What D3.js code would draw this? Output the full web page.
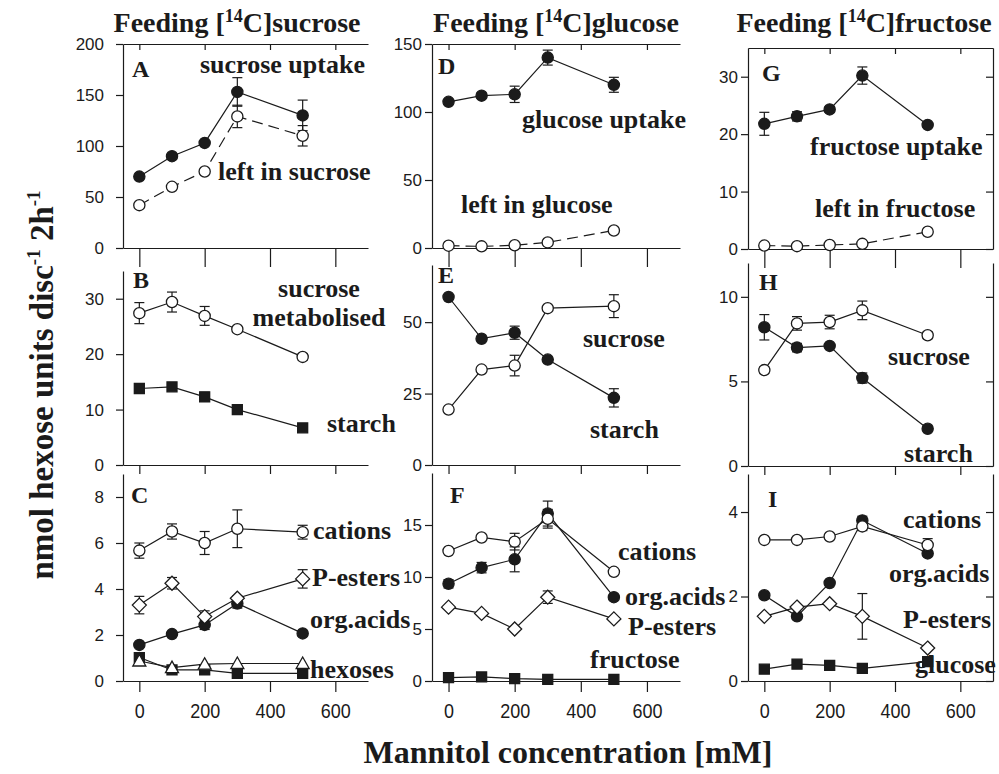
<!DOCTYPE html>
<html>
<head>
<meta charset="utf-8">
<script src="https://cdn.jsdelivr.net/npm/d3@7/dist/d3.min.js"></script>
<style>
  body { margin: 0; background: #fff; }
  svg { display: block; }
</style>
</head>
<body>
<svg id="chart" width="999" height="774"></svg>
<script>
// Mannitol concentrations of the incubation medium (mM)
const mannitolMM = [0, 100, 200, 300, 500];
const xTickValues = [0, 200, 400, 600];

// A: feeding [14C]sucrose – uptake and label left in sucrose
const aSucroseUptake = [70, 90, 103, 153, 130];
const aSucroseUptakeErr = [0, 0, 0, 14, 15];
const aLeftInSucrose = [42, 60, 75, 129, 110];
const aLeftInSucroseErr = [0, 0, 0, 11, 10];
const aTicks = [0, 50, 100, 150, 200];

// B: sucrose metabolised and starch
const bSucroseMetabolised = [27.4, 29.4, 26.9, 24.5, 19.5];
const bSucroseMetabolisedErr = [1.9, 1.8, 1.7, 0.5, 0.6];
const bStarch = [13.8, 14.1, 12.3, 10.0, 6.7];
const bStarchErr = [0.5, 0.4, 0.8, 0.4, 0.3];
const bTicks = [0, 10, 20, 30];

// C: minor fractions after sucrose feeding
const cCations = [5.67, 6.5, 6.0, 6.62, 6.47];
const cCationsErr = [0.33, 0.33, 0.5, 0.82, 0.3];
const cPEsters = [3.3, 4.25, 2.8, 3.6, 4.44];
const cPEstersErr = [0.38, 0.25, 0.25, 0.1, 0.4];
const cOrgAcids = [1.57, 2.04, 2.44, 3.37, 2.07];
const cOrgAcidsErr = [0.1, 0.1, 0.2, 0.2, 0.1];
const cHexosesSquare = [1.02, 0.48, 0.48, 0.33, 0.33];
const cHexosesTriangle = [0.87, 0.58, 0.73, 0.76, 0.76];
const cTicks = [0, 2, 4, 6, 8];

// D: feeding [14C]glucose – uptake and label left in glucose
const dGlucoseUptake = [107.5, 112, 113, 140, 120];
const dGlucoseUptakeErr = [2, 2, 6, 5.5, 5.5];
const dLeftInGlucose = [1.7, 1.2, 2, 4.1, 12.9];
const dLeftInGlucoseErr = [0, 0, 0, 0, 0];
const dTicks = [0, 50, 100, 150];

// E: starch and sucrose after glucose feeding
const eStarch = [58.8, 44.2, 46.3, 36.9, 23.5];
const eStarchErr = [0, 0, 2.3, 0, 3.2];
const eSucrose = [19.4, 33.4, 34.8, 54.9, 55.6];
const eSucroseErr = [0, 0, 3.6, 0, 4];
const eTicks = [0, 25, 50];

// F: minor fractions after glucose feeding
const fCations = [12.5, 13.8, 13.4, 15.6, 10.5];
const fCationsErr = [0, 0, 0.8, 0.9, 0];
const fOrgAcids = [9.35, 10.9, 11.7, 16.1, 8.06];
const fOrgAcidsErr = [0.4, 0.5, 1.2, 1.2, 0];
const fPEsters = [7.1, 6.5, 5.0, 8.06, 5.97];
const fPEstersErr = [0, 0, 0, 0.6, 0];
const fFructose = [0.32, 0.39, 0.23, 0.16, 0.16];
const fFructoseErr = [0, 0, 0, 0, 0];
const fTicks = [0, 5, 10, 15];

// G: feeding [14C]fructose – uptake and label left in fructose
const gFructoseUptake = [21.8, 23.1, 24.3, 30.2, 21.6];
const gFructoseUptakeErr = [2, 0.8, 0.5, 1.5, 0.4];
const gLeftInFructose = [0.6, 0.5, 0.7, 0.9, 3.0];
const gLeftInFructoseErr = [0, 0, 0, 0, 0];
const gTicks = [0, 10, 20, 30];

// H: sucrose and starch after fructose feeding
const hSucrose = [5.67, 8.43, 8.51, 9.2, 7.73];
const hSucroseErr = [0.2, 0.4, 0.4, 0.55, 0.2];
const hStarch = [8.2, 7.0, 7.1, 5.2, 2.2];
const hStarchErr = [0.75, 0.25, 0.1, 0.3, 0.1];
const hTicks = [0, 5, 10];

// I: minor fractions after fructose feeding
const iCations = [3.34, 3.34, 3.42, 3.66, 3.22];
const iCationsErr = [0, 0, 0, 0.1, 0.15];
const iOrgAcids = [2.03, 1.53, 2.32, 3.8, 3.02];
const iOrgAcidsErr = [0, 0, 0, 0.1, 0];
const iPEsters = [1.53, 1.75, 1.83, 1.53, 0.78];
const iPEstersErr = [0, 0, 0, 0.54, 0];
const iGlucose = [0.28, 0.4, 0.37, 0.3, 0.46];
const iGlucoseErr = [0, 0, 0, 0, 0];
const iTicks = [0, 2, 4];

const sugars = ["sucrose", "glucose", "fructose"];

// ---------------------------------------------------------------------------
const SERIF = "'Liberation Serif', 'Times New Roman', Times, serif";
const SANS = "'Liberation Sans', Arial, Helvetica, sans-serif";
const INK = "#1b1b1b";

const svg = d3.select("#chart");

const columns = [
  { x0: 123, x1: 368, titleX: 237 },
  { x0: 432, x1: 680, titleX: 556 },
  { x0: 748, x1: 993, titleX: 864 }
];
const rowTickGap = [19, 9, 11];

const S = (values, err, marker, dashed) => ({ values, err, marker, dashed: !!dashed });

// label entries: [text, x, baseline, anchor]
const panels = [
  { letter: "A", col: 0, row: 0, top: 44, bottom: 248, yMax: 200, ticks: aTicks, lx: 132, ly: 77,
    series: [S(aSucroseUptake, aSucroseUptakeErr, "filledCircle"),
             S(aLeftInSucrose, aLeftInSucroseErr, "openCircle", true)],
    labels: [["sucrose uptake", 200, 73], ["left in sucrose", 218, 180]] },
  { letter: "B", col: 0, row: 1, top: 271, bottom: 465, yMax: 35, ticks: bTicks, lx: 133, ly: 288,
    series: [S(bStarch, bStarchErr, "filledSquare"),
             S(bSucroseMetabolised, bSucroseMetabolisedErr, "openCircle")],
    labels: [["sucrose", 319, 297, "middle"], ["metabolised", 319, 326, "middle"], ["starch", 327, 432]] },
  { letter: "C", col: 0, row: 2, top: 474, bottom: 681, yMax: 9, ticks: cTicks, lx: 131, ly: 503,
    series: [S(cOrgAcids, cOrgAcidsErr, "filledCircle"),
             S(cHexosesSquare, null, "filledSquare"),
             S(cHexosesTriangle, null, "openTriangle"),
             S(cPEsters, cPEstersErr, "openDiamond"),
             S(cCations, cCationsErr, "openCircle")],
    labels: [["cations", 313, 539], ["P-esters", 312, 586], ["org.acids", 310, 628], ["hexoses", 310, 678]] },
  { letter: "D", col: 1, row: 0, top: 44, bottom: 248, yMax: 150, ticks: dTicks, lx: 438, ly: 74,
    series: [S(dGlucoseUptake, dGlucoseUptakeErr, "filledCircle"),
             S(dLeftInGlucose, dLeftInGlucoseErr, "openCircle", true)],
    labels: [["glucose uptake", 522, 128], ["left in glucose", 461, 213]] },
  { letter: "E", col: 1, row: 1, top: 265, bottom: 465, yMax: 70, ticks: eTicks, lx: 438, ly: 283,
    series: [S(eStarch, eStarchErr, "filledCircle"),
             S(eSucrose, eSucroseErr, "openCircle")],
    labels: [["sucrose", 583, 347], ["starch", 590, 438]] },
  { letter: "F", col: 1, row: 2, top: 473, bottom: 681, yMax: 20, ticks: fTicks, lx: 450, ly: 503,
    series: [S(fFructose, fFructoseErr, "filledSquare"),
             S(fOrgAcids, fOrgAcidsErr, "filledCircle"),
             S(fPEsters, fPEstersErr, "openDiamond"),
             S(fCations, fCationsErr, "openCircle")],
    labels: [["cations", 618, 560], ["org.acids", 625, 605], ["P-esters", 628, 635], ["fructose", 590, 668]] },
  { letter: "G", col: 2, row: 0, top: 48, bottom: 249, yMax: 35, ticks: gTicks, lx: 762, ly: 81,
    series: [S(gFructoseUptake, gFructoseUptakeErr, "filledCircle"),
             S(gLeftInFructose, gLeftInFructoseErr, "openCircle", true)],
    labels: [["fructose uptake", 810, 155], ["left in fructose", 815, 217]] },
  { letter: "H", col: 2, row: 1, top: 263, bottom: 466, yMax: 12, ticks: hTicks, lx: 759, ly: 290,
    series: [S(hStarch, hStarchErr, "filledCircle"),
             S(hSucrose, hSucroseErr, "openCircle")],
    labels: [["sucrose", 888, 365], ["starch", 904, 462]] },
  { letter: "I", col: 2, row: 2, top: 474, bottom: 681, yMax: 4.9, ticks: iTicks, lx: 768, ly: 507,
    series: [S(iGlucose, iGlucoseErr, "filledSquare"),
             S(iOrgAcids, iOrgAcidsErr, "filledCircle"),
             S(iPEsters, iPEstersErr, "openDiamond"),
             S(iCations, iCationsErr, "openCircle")],
    labels: [["cations", 903, 528], ["org.acids", 889, 582], ["P-esters", 903, 628], ["glucose", 915, 673]] }
];

// marker shapes, centred on the origin
const markerPath = {
  filledSquare: "M-5,-5H5V5H-5Z",
  openDiamond: "M0,-7L7,0L0,7L-7,0Z",
  openTriangle: "M0,-6.5L6.5,5L-6.5,5Z"
};

function styleAxis(g) {
  g.attr("color", INK);
  g.selectAll("path, line").attr("stroke-width", 1.2);
}

panels.forEach(p => {
  const c = columns[p.col];
  const x = d3.scaleLinear().domain([-50, 700]).range([c.x0, c.x1]);
  const y = d3.scaleLinear().domain([0, p.yMax]).range([p.bottom, p.top]);
  const g = svg.append("g").attr("class", "panel panel-" + p.letter);

  // left axis
  const left = g.append("g").attr("transform", `translate(${c.x0},0)`)
    .call(d3.axisLeft(y).tickValues(p.ticks).tickSizeInner(7).tickSizeOuter(0)
      .tickPadding(p.col === 0 ? 12 : 3).tickFormat(d3.format("d")));
  styleAxis(left);
  left.selectAll("text").attr("font-family", SANS).attr("font-size", 17).attr("fill", INK);

  // bottom axis (labels only on the lowest row)
  const bottomAxis = d3.axisBottom(x).tickValues(xTickValues)
    .tickSizeInner(rowTickGap[p.row]).tickSizeOuter(0).tickPadding(11);
  if (p.row !== 2) bottomAxis.tickFormat("");
  const bottom = g.append("g").attr("transform", `translate(0,${p.bottom})`).call(bottomAxis);
  styleAxis(bottom);
  bottom.selectAll("text")
    .attr("font-family", SANS).attr("font-size", 21).attr("fill", INK)
    .attr("textLength", d => String(d).length * 10)
    .attr("lengthAdjust", "spacingAndGlyphs");

  // top frame on the upper row
  if (p.row === 0) {
    const topAx = g.append("g").attr("transform", `translate(0,${p.top})`)
      .call(d3.axisTop(x).tickValues(xTickValues).tickSizeInner(-6).tickSizeOuter(0).tickFormat(""));
    styleAxis(topAx);
  }
  // right frame on the fructose column
  if (p.col === 2) {
    const rightAx = g.append("g").attr("transform", `translate(${c.x1},0)`)
      .call(d3.axisRight(y).tickValues(p.ticks).tickSizeInner(-7).tickSizeOuter(0).tickFormat(""));
    styleAxis(rightAx);
  }

  const pts = s => s.values.map((v, i) => ({ x: mannitolMM[i], y: v, e: s.err ? s.err[i] : 0 }));
  const line = d3.line().x(d => x(d.x)).y(d => y(d.y));

  // connecting lines
  p.series.forEach(s => {
    g.append("path").datum(pts(s))
      .attr("d", line).attr("fill", "none").attr("stroke", INK).attr("stroke-width", 1.2)
      .attr("stroke-dasharray", s.dashed ? "11,6" : null);
  });

  // error bars and markers
  p.series.forEach(s => {
    const data = pts(s);
    const eb = g.append("g").attr("stroke", INK).attr("stroke-width", 1.2);
    data.filter(d => d.e > 0).forEach(d => {
      eb.append("line").attr("x1", x(d.x)).attr("x2", x(d.x)).attr("y1", y(d.y - d.e)).attr("y2", y(d.y + d.e));
      eb.append("line").attr("x1", x(d.x) - 5).attr("x2", x(d.x) + 5).attr("y1", y(d.y + d.e)).attr("y2", y(d.y + d.e));
      eb.append("line").attr("x1", x(d.x) - 5).attr("x2", x(d.x) + 5).attr("y1", y(d.y - d.e)).attr("y2", y(d.y - d.e));
    });
    const filled = s.marker.startsWith("filled");
    const m = g.append("g").selectAll("*").data(data);
    if (s.marker === "filledCircle" || s.marker === "openCircle") {
      m.join("circle").attr("cx", d => x(d.x)).attr("cy", d => y(d.y)).attr("r", 5.6)
        .attr("fill", filled ? INK : "#fff").attr("stroke", INK).attr("stroke-width", 1.3);
    } else {
      m.join("path").attr("transform", d => `translate(${x(d.x)},${y(d.y)})`)
        .attr("d", markerPath[s.marker])
        .attr("fill", filled ? INK : "#fff").attr("stroke", INK).attr("stroke-width", 1.3);
    }
  });

  // panel letter
  g.append("text").attr("x", p.lx).attr("y", p.ly)
    .attr("font-family", SERIF).attr("font-weight", "bold").attr("font-size", 24).attr("fill", INK)
    .text(p.letter);

  // series labels
  p.labels.forEach(([t, lx, ly, anchor]) => {
    g.append("text").attr("x", lx).attr("y", ly).attr("text-anchor", anchor || "start")
      .attr("font-family", SERIF).attr("font-weight", "bold").attr("font-size", 26).attr("fill", INK)
      .text(t);
  });
});

// column titles
columns.forEach((c, i) => {
  const t = svg.append("text").attr("x", c.titleX).attr("y", 32).attr("text-anchor", "middle")
    .attr("font-family", SERIF).attr("font-weight", "bold").attr("font-size", 28).attr("fill", INK);
  t.append("tspan").text("Feeding [");
  t.append("tspan").attr("font-size", 18).attr("dy", -10).text("14");
  t.append("tspan").attr("dy", 10).text("C]" + sugars[i]);
});

// y-axis title
const yt = svg.append("text").attr("transform", "translate(53,385) rotate(-90)")
  .attr("text-anchor", "middle").attr("font-family", SERIF).attr("font-weight", "bold")
  .attr("font-size", 33).attr("fill", INK);
yt.append("tspan").text("nmol hexose units disc");
yt.append("tspan").attr("font-size", 19).attr("dy", -13).text("-1");
yt.append("tspan").attr("dy", 13).text(" 2h");
yt.append("tspan").attr("font-size", 19).attr("dy", -13).text("-1");

// x-axis title
svg.append("text").attr("x", 568).attr("y", 763).attr("text-anchor", "middle")
  .attr("font-family", SERIF).attr("font-weight", "bold").attr("font-size", 32).attr("fill", INK)
  .text("Mannitol concentration [mM]");
</script>
</body>
</html>
